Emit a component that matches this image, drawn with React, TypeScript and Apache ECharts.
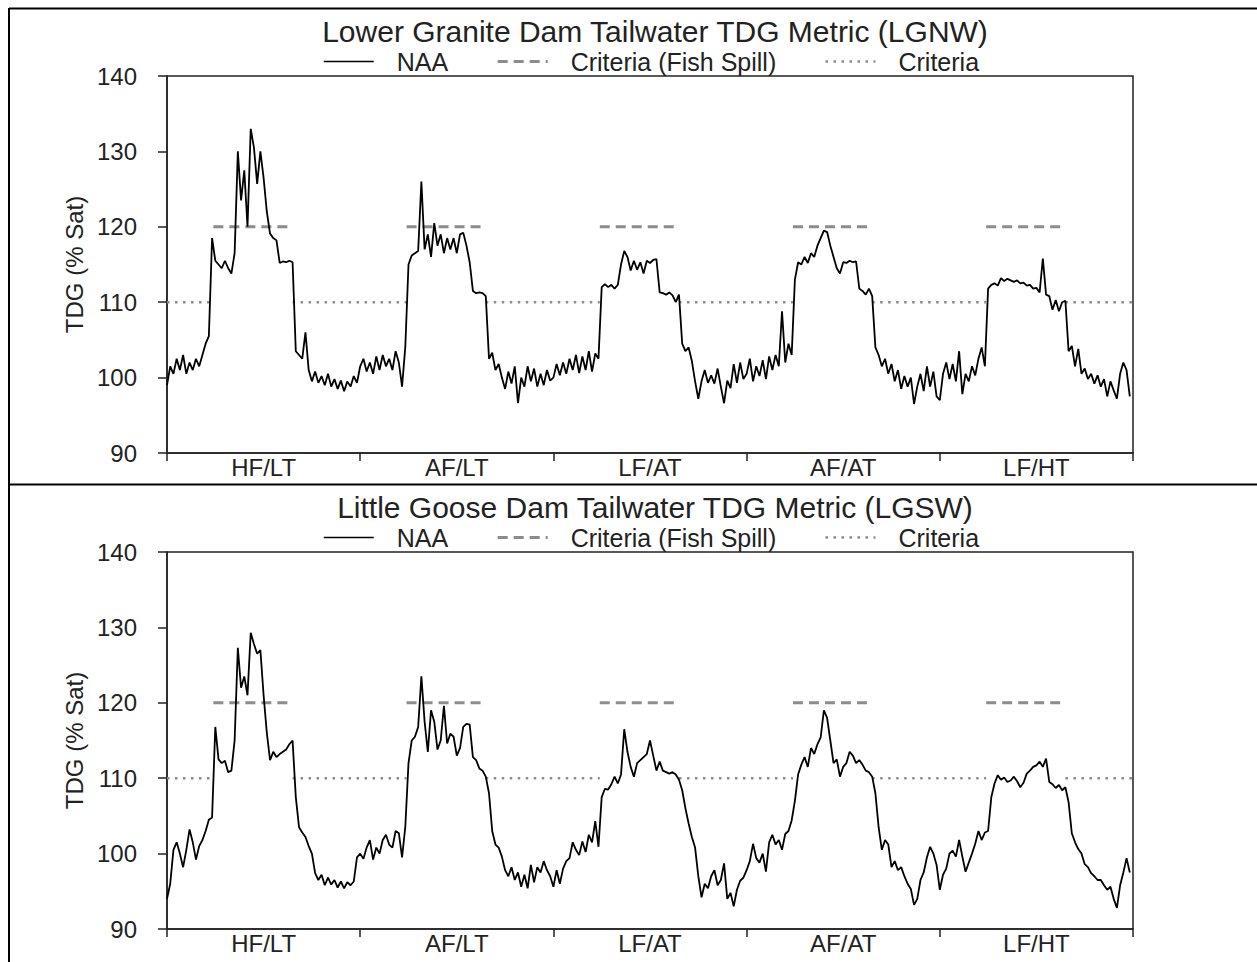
import React, { useEffect, useRef } from "react";
import * as echarts from "echarts";

// ---------- data ----------
const scenarios = ["HF/LT", "AF/LT", "LF/AT", "AF/AT", "LF/HT"];
const yMin = 90;
const yMax = 140;
const yStep = 10;

// Fish spill season as fraction of each scenario year
const fishSpillStart = 0.24;
const fishSpillEnd = 0.65;
const criteriaFishSpill = 120;
const criteriaBase = 110;

// Lower Granite tailwater (LGNW), NAA, one array per scenario year
const lgnwHFLT = [99, 101.5, 100.5, 102.5, 101, 103, 100.5, 102, 101, 102.5,
  101.5, 103, 104.5, 105.5, 118.5, 115.5, 115, 114.5, 115.5, 114.5,
  113.8, 116.5, 130, 123.5, 127.5, 120, 133, 130.5, 125.7, 130,
  126.5, 122, 119.1, 118.5, 118.2, 115.2, 115.4, 115.3, 115.5, 115.3,
  103.5, 103, 102.5, 106, 101, 99.5, 100.8, 99.3, 100.2, 99,
  100.5, 98.8, 99.8, 98.5, 99.6, 98.2, 99.5, 98.8, 100.2, 99.3];
const lgnwAFLT = [101.5, 102.5, 100.8, 102, 100.5, 102.8, 101, 103, 101.5, 102.5,
  101, 103.5, 102, 98.8, 104, 115, 116.2, 116.5, 116.8, 126,
  117, 119, 116, 120.5, 117.5, 119, 116.5, 118.5, 117, 118.5,
  116.5, 119, 119.2, 117.5, 115.3, 111.5, 111.2, 111.3, 111.2, 110.8,
  102.5, 103.3, 101, 101.8, 100, 98.5, 100.8, 99.2, 101.5, 96.6,
  100, 98.8, 101.5, 99.5, 101.2, 98.8, 100.5, 99, 101, 99.6];
const lgnwLFAT = [100, 101.8, 100.3, 102, 100.5, 102.5, 101, 103, 100.6, 102.8,
  101, 103.5, 100.8, 103.2, 102.5, 112, 112.4, 112, 112.3, 111.8,
  112.3, 115, 116.8, 116, 114.2, 115.5, 114.3, 115.3, 113.8, 115.5,
  115.2, 115.6, 115.7, 111.3, 111.2, 111, 111.3, 110.9, 110, 111,
  104.5, 103.5, 104, 102.2, 99.5, 97.2, 99.5, 101, 99.3, 100.3,
  99.2, 101.2, 98.8, 96.6, 99.6, 98.6, 101.8, 99.3, 102, 99.8];
const lgnwAFAT = [100.5, 102.5, 99.5, 101.5, 100.2, 102.3, 99.8, 102.8, 101, 103,
  101.5, 108.8, 102, 104.5, 103, 113, 115.3, 115, 116, 115.2,
  116.5, 116, 117.5, 118.5, 119.5, 119.3, 117.5, 116, 114.5, 113.8,
  115.3, 115.2, 115.5, 115.3, 115.4, 111.8, 111.5, 111, 111.8, 110.8,
  104, 103, 101.5, 102.5, 100.5, 101.8, 99.5, 101, 98.5, 100.2,
  98.8, 100, 96.5, 98.8, 100.5, 98.2, 101.5, 98.8, 100.8, 97.5];
const lgnwLFHT = [97, 100.5, 102, 99.8, 101.8, 99.5, 103.5, 97.8, 100.5, 99.5,
  101.5, 100.3, 102.5, 104, 101.5, 111.8, 112.3, 112.5, 112.2, 113.2,
  112.8, 113.1, 112.9, 112.7, 112.9, 112.5, 112.6, 112.2, 112.3, 111.8,
  111.9, 111.3, 115.8, 111, 110.8, 109, 110.3, 108.8, 110, 110.2,
  103.5, 104.2, 101.5, 103.8, 100.5, 101.2, 99.8, 100.5, 99.2, 100.3,
  98.8, 99.8, 97.5, 99.5, 98.3, 97.2, 100.5, 102, 101, 97.5];

// Little Goose tailwater (LGSW), NAA
const lgswHFLT = [94, 96, 100.5, 101.5, 100, 98.2, 100.5, 103.2, 101.5, 99.2,
  101, 101.8, 103, 104.5, 104.8, 116.8, 112.5, 112, 112.3, 110.8,
  111, 115, 127.3, 122, 123.5, 121, 129.3, 127.8, 126.5, 127,
  121, 116, 112.4, 113.5, 112.8, 113.2, 113.5, 113.8, 114.5, 115,
  107.5, 103.5, 102.8, 102.2, 101, 100, 97.4, 96.5, 97.2, 95.8,
  96.8, 95.9, 96.5, 95.5, 96.3, 95.4, 96.2, 95.8, 96.3, 99.5];
const lgswAFLT = [100, 99.3, 100.8, 101.8, 99.2, 100.8, 100, 101.8, 102.5, 101.2,
  100.8, 103, 102.7, 99.5, 103.5, 112, 115, 115.5, 116.8, 123.5,
  117.5, 113.5, 119, 117.5, 113.8, 115, 119.6, 114.6, 115.9, 115.5,
  113, 114, 116.8, 117.2, 117.1, 112.8, 112.4, 111.3, 111, 110.2,
  108, 103, 101.2, 100.8, 99.6, 97.8, 97, 98.2, 96.5, 97.5,
  95.6, 97.2, 95.4, 98.5, 96.2, 98.2, 97.5, 99, 97.8, 97];
const lgswLFAT = [95.6, 97.8, 96, 98, 99, 99.4, 101.5, 100.5, 99.8, 101.6,
  100.2, 102.5, 101.5, 104.3, 100.9, 107.5, 108.6, 108.5, 109.2, 110.2,
  109.3, 110.5, 116.5, 113.5, 111.5, 110.2, 112, 112.4, 112.8, 113.2,
  115, 113, 111, 112.2, 111, 110.8, 110.6, 110.8, 110.5, 109.8,
  108.4, 106, 104, 102.2, 100.8, 97, 94.2, 96, 95.4, 97,
  97.8, 95.8, 96.5, 98.7, 94, 94.8, 93, 95.2, 96.4, 96.8];
const lgswAFAT = [97.8, 99, 101.3, 99.4, 98.8, 100, 97.6, 101.5, 102.5, 101.2,
  101.8, 100.5, 102.6, 103, 104.4, 107, 110.5, 111.8, 112.8, 111.5,
  114, 113.2, 114.5, 115.4, 119, 118, 115, 112, 112.5, 110.2,
  111.5, 112, 113.5, 113, 112, 112.4, 111.8, 111, 110.8, 110.2,
  108, 103.5, 100.5, 101.8, 101.2, 98.2, 99, 97.8, 98.2, 97,
  96, 95.3, 93.2, 94, 96.5, 97.5, 99.5, 100.9, 100, 98.5];
const lgswLFHT = [95.2, 97.2, 98, 100, 100.4, 99.6, 101.8, 99.6, 97.6, 98.8,
  100, 101.3, 103, 101.8, 102.8, 103, 107.5, 109.3, 110.4, 109.8,
  110.1, 109.5, 109.7, 110.2, 109.6, 108.8, 109.4, 110.6, 111, 111.5,
  111.7, 112.2, 111.5, 112.6, 109.5, 109.2, 108.7, 109.1, 108.4, 108.8,
  106.8, 102.7, 101.5, 100.6, 100, 98.6, 98.2, 97.4, 97, 96.5,
  96.5, 95.8, 95.2, 95.6, 94, 92.8, 95.8, 97.5, 99.4, 97.5];

const panels = [
  { title: "Lower Granite Dam Tailwater TDG Metric (LGNW)", years: [lgnwHFLT, lgnwAFLT, lgnwLFAT, lgnwAFAT, lgnwLFHT] },
  { title: "Little Goose Dam Tailwater TDG Metric (LGSW)", years: [lgswHFLT, lgswAFLT, lgswLFAT, lgswAFAT, lgswLFHT] },
];

// ---------- builders ----------
function buildNaa(years: number[][]) {
  const pts: number[][] = [];
  years.forEach((vals, y) => vals.forEach((v, j) => pts.push([y + j / vals.length, v])));
  return pts;
}
function buildSpill() {
  const pts: (number | null)[][] = [];
  for (let y = 0; y < scenarios.length; y++) {
    pts.push([y + fishSpillStart, criteriaFishSpill], [y + fishSpillEnd, criteriaFishSpill], [y + fishSpillEnd, null]);
  }
  return pts;
}
function buildBase() {
  const pts: (number | null)[][] = [[0, criteriaBase]];
  for (let y = 0; y < scenarios.length; y++) {
    pts.push([y + fishSpillStart, criteriaBase], [y + fishSpillStart, null], [y + fishSpillEnd, criteriaBase]);
  }
  pts.push([scenarios.length, criteriaBase]);
  return pts;
}

const FONT = "'Liberation Sans', Arial, Helvetica, sans-serif";
const TEXT = "#222";
const AXIS = "#222";
const CRIT = "#8c8c8c";
const SPILL_LINE = { color: CRIT, width: 3, type: [10, 6] };
const BASE_LINE = { color: CRIT, width: 2.5, type: [2.5, 5.5] };
const NAA_LINE = { color: "#000", width: 1.8 };

function buildOption() {
  const title: any[] = [];
  const legend: any[] = [];
  const grid: any[] = [];
  const xAxis: any[] = [];
  const yAxis: any[] = [];
  const series: any[] = [];
  const gridTops = [76, 552];
  const titleTops = [11, 487];
  const legendTops = [44, 520];

  panels.forEach((p, i) => {
    title.push({
      text: p.title, left: 650, top: titleTops[i], textAlign: "center",
      textStyle: { fontSize: 30, fontWeight: "normal", color: TEXT, fontFamily: FONT },
    });
    legend.push({
      left: 318, top: legendTops[i], itemWidth: 50, itemHeight: 14, itemGap: 48,
      data: [
        { name: "NAA", lineStyle: { width: 1.5 } },
        { name: "Criteria (Fish Spill)", lineStyle: { width: 3, type: [10, 6] } },
        { name: "Criteria", lineStyle: { width: 2.5, type: [2.5, 5.5] } },
      ],
      itemStyle: { opacity: 0 },
      textStyle: { fontSize: 25, color: TEXT, fontFamily: FONT, padding: [0, 0, 0, 18] },
    });
    grid.push({
      left: 167, top: gridTops[i], width: 966, height: 377,
      show: true, borderColor: AXIS, borderWidth: 1.5, backgroundColor: "transparent",
    });
    xAxis.push({
      type: "category", gridIndex: i, data: scenarios, boundaryGap: true,
      axisLine: { lineStyle: { color: AXIS, width: 1.5 } },
      axisTick: { show: true, length: 8, interval: 0, lineStyle: { color: AXIS, width: 1.5 } },
      axisLabel: { fontSize: 24, color: TEXT, fontFamily: FONT, margin: 2, interval: 0 },
      splitLine: { show: false },
    });
    xAxis.push({ type: "value", gridIndex: i, min: 0, max: scenarios.length, show: false });
    yAxis.push({
      type: "value", gridIndex: i, min: yMin, max: yMax, interval: yStep,
      name: "TDG (% Sat)", nameLocation: "middle", nameGap: 78,
      nameTextStyle: { fontSize: 24, color: TEXT, fontFamily: FONT },
      axisLine: { show: true, lineStyle: { color: AXIS, width: 1.5 } },
      axisTick: { show: true, length: 9, lineStyle: { color: AXIS, width: 1.5 } },
      axisLabel: { fontSize: 24, color: TEXT, fontFamily: FONT, margin: 30 },
      splitLine: { show: false },
    });
    series.push({
      name: "Criteria (Fish Spill)", type: "line", xAxisIndex: 2 * i + 1, yAxisIndex: i,
      data: buildSpill(), symbol: "none", showSymbol: false, connectNulls: false,
      lineStyle: SPILL_LINE, itemStyle: { color: CRIT }, z: 2,
    });
    series.push({
      name: "Criteria", type: "line", xAxisIndex: 2 * i + 1, yAxisIndex: i,
      data: buildBase(), symbol: "none", showSymbol: false, connectNulls: false,
      lineStyle: BASE_LINE, itemStyle: { color: CRIT }, z: 2,
    });
    series.push({
      name: "NAA", type: "line", xAxisIndex: 2 * i + 1, yAxisIndex: i,
      data: buildNaa(p.years), symbol: "none", showSymbol: false,
      lineStyle: NAA_LINE, itemStyle: { color: "#000" }, z: 3,
    });
  });

  const graphic = [
    { type: "line", shape: { x1: 9, y1: 8.5, x2: 1257, y2: 8.5 }, style: { stroke: "#000", lineWidth: 2 } },
    { type: "line", shape: { x1: 9, y1: 8, x2: 9, y2: 962 }, style: { stroke: "#000", lineWidth: 2 } },
    { type: "line", shape: { x1: 9, y1: 484.5, x2: 1257, y2: 484.5 }, style: { stroke: "#000", lineWidth: 2 } },
  ];

  return { animation: false, backgroundColor: "#fff", title, legend, grid, xAxis, yAxis, series, graphic };
}

export default function App() {
  const ref = useRef<HTMLDivElement>(null);
  useEffect(() => {
    if (!ref.current) return;
    const chart = echarts.init(ref.current, undefined, { renderer: "svg" });
    chart.setOption(buildOption() as any);
    return () => chart.dispose();
  }, []);
  return <div ref={ref} style={{ position: "fixed", left: 0, top: 0, width: 1257, height: 962 }} />;
}
